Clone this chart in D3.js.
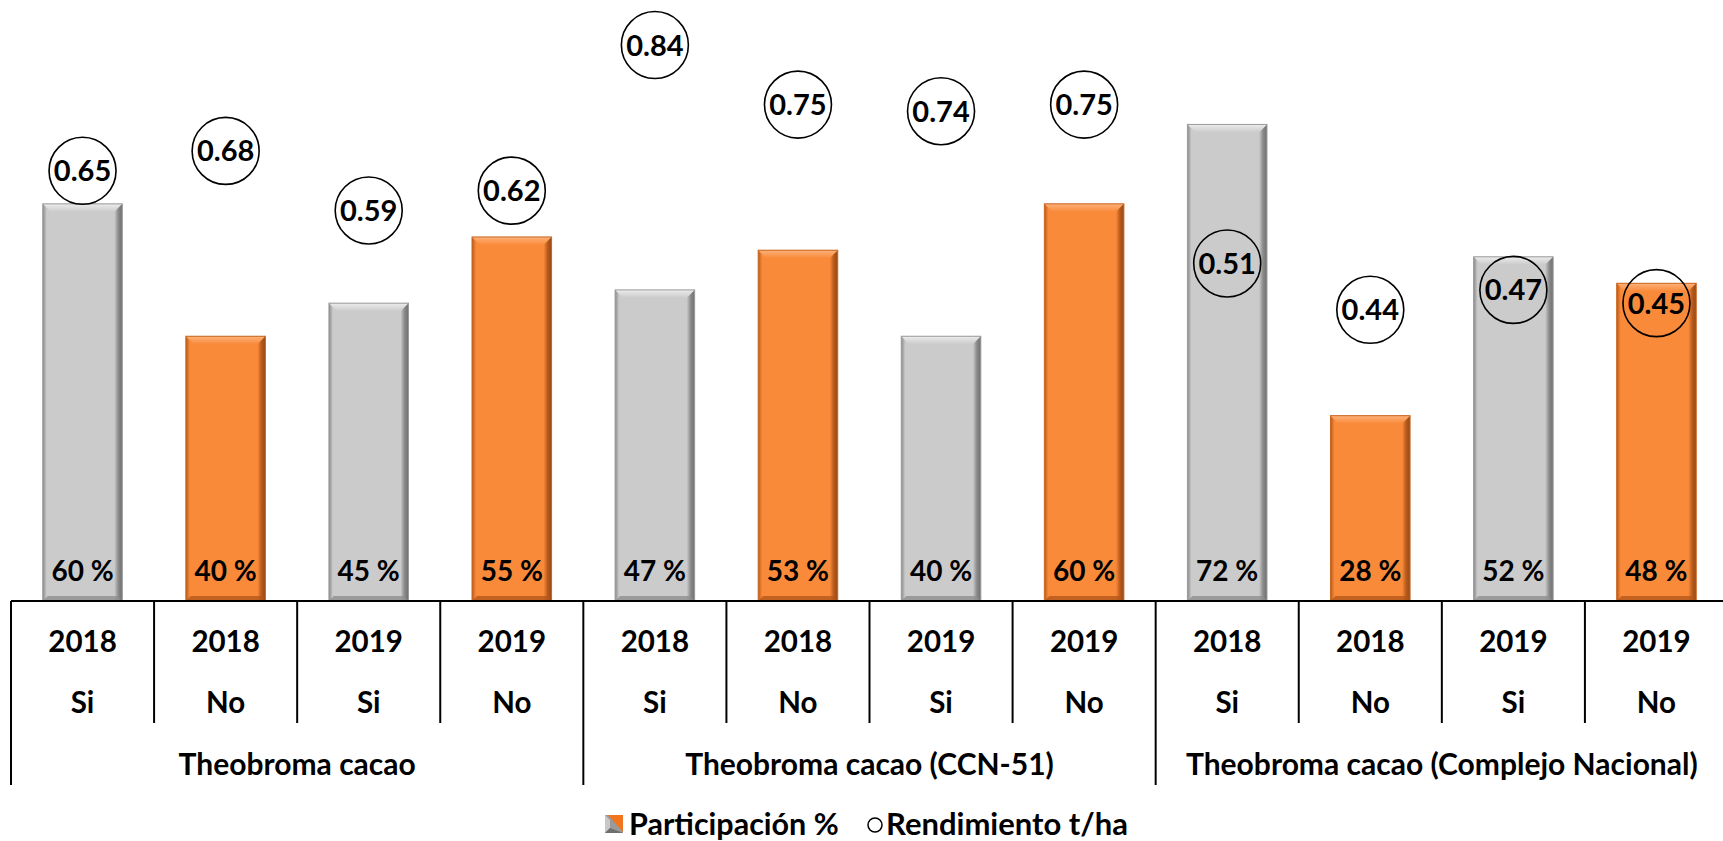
<!DOCTYPE html>
<html>
<head>
<meta charset="utf-8">
<script src="https://cdn.jsdelivr.net/npm/d3@7"></script>
<style>
  html, body { margin: 0; padding: 0; background: #ffffff; }
  svg { display: block; }
  text { font-family: Lato, "Open Sans", sans-serif; font-weight: bold; fill: #000; }
</style>
</head>
<body>
<svg id="chart" width="1723" height="841"></svg>
<script>
// ---- data ----
const groups = ["Theobroma cacao", "Theobroma cacao (CCN-51)", "Theobroma cacao (Complejo Nacional)"];
const groupOf = [0, 0, 0, 0, 1, 1, 1, 1, 2, 2, 2, 2];
const years = ["2018", "2018", "2019", "2019", "2018", "2018", "2019", "2019", "2018", "2018", "2019", "2019"];
const siNo = ["Si", "No", "Si", "No", "Si", "No", "Si", "No", "Si", "No", "Si", "No"];
const participacion = [60, 40, 45, 55, 47, 53, 40, 60, 72, 28, 52, 48];
const rendimiento = [0.65, 0.68, 0.59, 0.62, 0.84, 0.75, 0.74, 0.75, 0.51, 0.44, 0.47, 0.45];
const legendLabels = ["Participación %", "Rendimiento t/ha"];

const svg = d3.select("#chart");
const W = 1723, H = 841;
const left = 11, right = 1728, baseY = 601;
const idx = d3.range(participacion.length);

const x = d3.scaleBand().domain(idx).range([left, right]).paddingInner(0.444).paddingOuter(0.222);
const step = x.step();
const y = d3.scaleLinear().domain([0, 90.8]).range([baseY, 0]);
const y2 = d3.scaleLinear().domain([0, 0.908]).range([baseY, 0]);

// gradients for bevel look
const defs = svg.append("defs");
function bevelDefs(id, base, dark, light) {
  const gh = defs.append("linearGradient").attr("id", id + "-h").attr("x1", "0").attr("x2", "1").attr("y1", "0").attr("y2", "0");
  gh.append("stop").attr("offset", "0").attr("stop-color", dark);
  gh.append("stop").attr("offset", "0.05").attr("stop-color", base);
  gh.append("stop").attr("offset", "0.08").attr("stop-color", base);
  gh.append("stop").attr("offset", "0.90").attr("stop-color", base);
  gh.append("stop").attr("offset", "0.95").attr("stop-color", dark);
  gh.append("stop").attr("offset", "1").attr("stop-color", d3.color(dark).darker(0.6));
  const gt = defs.append("linearGradient").attr("id", id + "-t").attr("x1", "0").attr("x2", "0").attr("y1", "0").attr("y2", "1");
  gt.append("stop").attr("offset", "0").attr("stop-color", light);
  gt.append("stop").attr("offset", "1").attr("stop-color", base);
}
bevelDefs("gray", "#cbcbcb", "#8a8a8a", "#ececec");
bevelDefs("orange", "#f98a3a", "#b85a1c", "#fdb27a");

const colorKey = i => (i % 2 === 0 ? "gray" : "orange");

// ---- bars ----
const bars = svg.append("g").attr("class", "bars");
idx.forEach(i => {
  const bx = x(i), bw = x.bandwidth(), by = y(participacion[i]), bh = baseY - y(participacion[i]);
  const k = colorKey(i);
  const g = bars.append("g");
  g.append("rect").attr("x", bx).attr("y", by).attr("width", bw).attr("height", bh)
    .attr("fill", `url(#${k}-h)`);
  const bev = 8;
  g.append("path")
    .attr("d", `M${bx},${by} L${bx + bw},${by} L${bx + bw - bev},${by + bev} L${bx + bev},${by + bev} Z`)
    .attr("fill", `url(#${k}-t)`);
  g.append("path")
    .attr("d", `M${bx},${by + bh} L${bx + bw},${by + bh} L${bx + bw - 5},${by + bh - 5} L${bx + 5},${by + bh - 5} Z`)
    .attr("fill", k === "gray" ? "#8f8f8f" : "#b4561a").attr("opacity", 0.8);
  g.append("rect").attr("x", bx).attr("y", by).attr("width", bw).attr("height", bh)
    .attr("fill", "none").attr("stroke", k === "gray" ? "#9a9a9a" : "#c9651f").attr("stroke-width", 1);
});

// value labels inside bars
svg.append("g").selectAll("text").data(idx).join("text")
  .attr("x", i => x(i) + x.bandwidth() / 2)
  .attr("y", baseY - 20)
  .attr("text-anchor", "middle")
  .attr("font-size", 28)
  .text(i => participacion[i] + " %");

// ---- rendimiento circles ----
const cg = svg.append("g");
idx.forEach(i => {
  const cx = x(i) + x.bandwidth() / 2, cy = y2(rendimiento[i]);
  cg.append("circle").attr("cx", cx).attr("cy", cy).attr("r", 33.5)
    .attr("fill", "none").attr("stroke", "#000").attr("stroke-width", 1.6);
  cg.append("text").attr("x", cx).attr("y", cy + 10.5).attr("text-anchor", "middle")
    .attr("font-size", 29).text(rendimiento[i].toFixed(2));
});

// ---- category axis ----
const ax = svg.append("g").attr("stroke", "#000").attr("stroke-width", 2);
ax.append("line").attr("x1", left).attr("x2", W).attr("y1", baseY).attr("y2", baseY);
const cellLeft = i => x(i) - step * x.paddingInner() / 2;
idx.forEach(i => {
  const isGroupStart = i === 0 || groupOf[i] !== groupOf[i - 1];
  ax.append("line").attr("x1", cellLeft(i)).attr("x2", cellLeft(i))
    .attr("y1", baseY).attr("y2", isGroupStart ? 785 : 723);
});

svg.append("g").selectAll("text").data(idx).join("text")
  .attr("x", i => x(i) + x.bandwidth() / 2).attr("y", 652)
  .attr("text-anchor", "middle").attr("font-size", 29.5).text(i => years[i]);
svg.append("g").selectAll("text").data(idx).join("text")
  .attr("x", i => x(i) + x.bandwidth() / 2).attr("y", 713)
  .attr("text-anchor", "middle").attr("font-size", 29.5).text(i => siNo[i]);

svg.append("g").selectAll("text").data(groups).join("text")
  .attr("x", (d, gi) => {
    const members = idx.filter(i => groupOf[i] === gi);
    const a = cellLeft(members[0]), b = cellLeft(members[members.length - 1]) + step;
    return (a + b) / 2;
  })
  .attr("y", 775).attr("text-anchor", "middle").attr("font-size", 30).text(d => d);

// ---- legend ----
const lg = svg.append("g");
const sq = { x: 605, y: 815, s: 18 };
lg.append("rect").attr("x", sq.x).attr("y", sq.y).attr("width", sq.s).attr("height", sq.s).attr("fill", "#9a9a9a");
lg.append("path").attr("d", `M${sq.x},${sq.y} L${sq.x + 5},${sq.y + 5} L${sq.x + 5},${sq.y + sq.s - 5} L${sq.x},${sq.y + sq.s} Z`).attr("fill", "#c8c8c8");
lg.append("path").attr("d", `M${sq.x},${sq.y + sq.s} L${sq.x + 5},${sq.y + sq.s - 5} L${sq.x + sq.s},${sq.y + sq.s} Z`).attr("fill", "#6e6e6e");
lg.append("path").attr("d", `M${sq.x + 3},${sq.y} L${sq.x + sq.s},${sq.y} L${sq.x + sq.s},${sq.y + sq.s - 1} Z`).attr("fill", "#f0751e");
lg.append("text").attr("x", 629).attr("y", 835).attr("font-size", 30.5).text(legendLabels[0]);
lg.append("circle").attr("cx", 875).attr("cy", 825).attr("r", 7).attr("fill", "#fff").attr("stroke", "#000").attr("stroke-width", 1.5);
lg.append("text").attr("x", 886).attr("y", 835).attr("font-size", 31).text(legendLabels[1]);
</script>
</body>
</html>
